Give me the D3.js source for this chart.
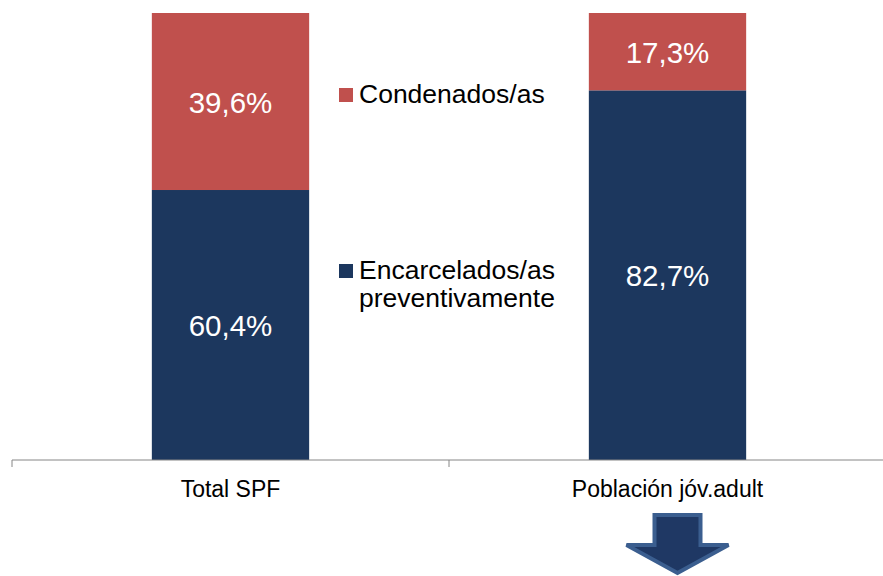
<!DOCTYPE html>
<html lang="es">
<head>
<meta charset="UTF-8">
<title>Situación procesal</title>
<style>
  body { margin: 0; background: #fff; }
  svg { display: block; font-family: "Liberation Sans", Arial, sans-serif; }
</style>
</head>
<body>
<script src="https://d3js.org/d3.v7.min.js"></script>
<svg id="chart"></svg>
<script>
    // data
    var categories = ["Total SPF", "Población jóv.adult"];
    var preventivos = [60.4, 82.7];
    var condenados = [39.6, 17.3];
    var seriesNames = ["Condenados/as", "Encarcelados/as preventivamente"];

    var outerWidth = 883, outerHeight = 576;
    var margin = {top: 13, right: -3, bottom: 116, left: 12},
        width = outerWidth - margin.left - margin.right,
        height = outerHeight - margin.top - margin.bottom;

    var colors = {cond: "#c0504d", prev: "#1c375e"};

    var svg = d3.select("#chart")
        .attr("width", outerWidth)
        .attr("height", outerHeight);
    var g = svg.append("g")
        .attr("transform", `translate(${margin.left}, ${margin.top})`);

    var rows = categories.map(function(c, i) {
        return {cat: c, prev: preventivos[i], cond: condenados[i]};
    });
    var stacked = d3.stack().keys(["prev", "cond"])(rows);

    var x = d3.scaleBand()
        .domain(categories)
        .range([0, width])
        .paddingInner(0)
        .paddingOuter(0);
    var barPad = 0.32; // fraction of band left empty on each side
    var y = d3.scaleLinear().domain([0, 100]).range([height, 0]);

    // bars
    g.selectAll("g.layer")
        .data(stacked)
        .enter().append("g")
        .attr("class", "layer")
        .attr("fill", function(d) { return colors[d.key]; })
        .selectAll("rect")
        .data(function(d) { return d; })
        .enter().append("rect")
            .attr("x", function(d) { return x(d.data.cat) + x.bandwidth() * barPad; })
            .attr("width", x.bandwidth() * (1 - 2 * barPad))
            .attr("y", function(d) { return y(d[1]); })
            .attr("height", function(d) { return y(d[0]) - y(d[1]); });

    // value labels
    g.selectAll("g.layer").each(function(layer) {
        d3.select(this).selectAll("text")
            .data(layer)
            .enter().append("text")
            .attr("x", function(d) { return x(d.data.cat) + x.bandwidth() / 2; })
            .attr("y", function(d) { return (y(d[0]) + y(d[1])) / 2 + 11; })
            .attr("text-anchor", "middle")
            .attr("fill", "#fff")
            .style("font-size", "29.5px")
            .text(function(d) { return String((d[1] - d[0]).toFixed(1)).replace(".", ",") + "%"; });
    });

    // x axis
    var axis = g.append("g").attr("transform", `translate(0, ${height})`);
    axis.append("line")
        .attr("x1", 0).attr("x2", width)
        .attr("stroke", "#868686").attr("stroke-width", 1);
    axis.selectAll("line.tick")
        .data(categories.concat([null]))
        .enter().append("line")
        .attr("class", "tick")
        .attr("x1", function(d, i) { return i * x.step(); })
        .attr("x2", function(d, i) { return i * x.step(); })
        .attr("y1", 0).attr("y2", 7)
        .attr("stroke", "#868686");
    axis.selectAll("text")
        .data(categories)
        .enter().append("text")
        .attr("x", function(d) { return x(d) + x.bandwidth() / 2; })
        .attr("y", 37)
        .attr("text-anchor", "middle")
        .attr("fill", "#000")
        .style("font-size", "23px")
        .text(function(d) { return d; });

    // legend
    var legend = svg.append("g").attr("transform", "translate(339, 0)");
    var legendItems = [
        {name: seriesNames[0], color: colors.cond, y: 88},
        {name: seriesNames[1], color: colors.prev, y: 264}
    ];
    legendItems.forEach(function(item) {
        legend.append("rect")
            .attr("x", 0).attr("y", item.y)
            .attr("width", 14).attr("height", 14)
            .attr("fill", item.color);
        var words = item.name.split(" ");
        var t = legend.append("text")
            .attr("x", 20).attr("y", item.y + 15)
            .attr("fill", "#000")
            .style("font-size", "26.5px");
        words.forEach(function(w, i) {
            t.append("tspan").attr("x", 20).attr("dy", i ? 28 : 0).text(w);
        });
    });

    // arrow pointing down under the young adult bar
    var cx = margin.left + x(categories[1]) + x.bandwidth() / 2 + 10;
    var arrow = d3.path();
    arrow.moveTo(cx - 23, 515);
    arrow.lineTo(cx + 23, 515);
    arrow.lineTo(cx + 23, 545);
    arrow.lineTo(cx + 51, 545);
    arrow.lineTo(cx, 573);
    arrow.lineTo(cx - 51, 545);
    arrow.lineTo(cx - 23, 545);
    arrow.closePath();
    svg.append("path")
        .attr("d", arrow.toString())
        .attr("fill", "#1f3864")
        .attr("stroke", "#3b5e8f")
        .attr("stroke-width", 4)
        .attr("stroke-linejoin", "miter");
</script>
</body>
</html>
